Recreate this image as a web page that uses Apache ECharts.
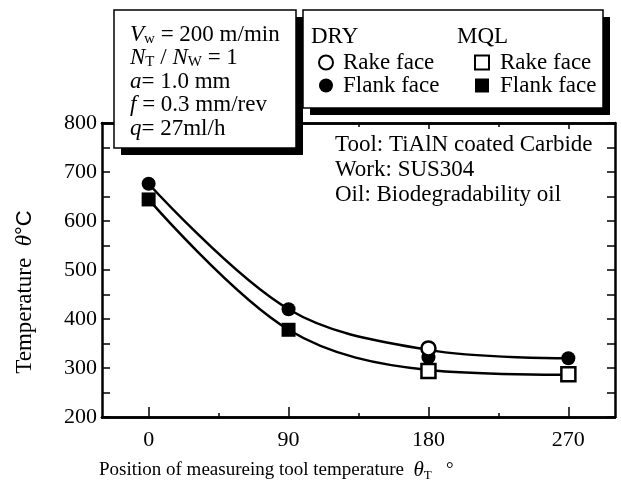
<!DOCTYPE html>
<html>
<head>
<meta charset="utf-8">
<script src="https://cdn.jsdelivr.net/npm/echarts@6/dist/echarts.min.js"></script>
<style>
  html, body { margin: 0; padding: 0; background: #fff; }
  #main { width: 621px; height: 488px; }
</style>
</head>
<body>
<div id="main"></div>
<script>
// positions (deg) and temperatures
var xTicks = [0, 90, 180, 270];
var xMinorTicks = [45, 135, 225];

var dryRake = [[180, 340]];
var dryFlank = [[0, 676], [90, 420], [180, 322], [270, 320]];
var mqlRake = [[180, 294], [270, 287]];
var mqlFlank = [[0, 644], [90, 378]];

// fitted curves through the measured values
var dryCurve = [[0, 676], [90, 420], [180, 337], [270, 320]];
var mqlCurve = [[0, 644], [90, 378], [180, 296], [270, 286]];

var serif = 'Liberation Serif';

var chartDom = document.getElementById('main');
var myChart = echarts.init(chartDom);
var option;

function xAx(pos, ticks, len, labels) {
  return {
    type: 'value',
    position: pos,
    min: -30,
    max: 300,
    axisLine: { show: true, onZero: false, lineStyle: { color: '#000', width: 2.5 } },
    axisTick: { show: true, inside: true, length: len, customValues: ticks, lineStyle: { color: '#000', width: 1.5 } },
    axisLabel: labels ? {
      show: true, customValues: ticks, margin: 12,
      color: '#000', fontFamily: serif, fontSize: 22
    } : { show: false },
    splitLine: { show: false }
  };
}

function yAx(pos, labels) {
  return {
    type: 'value',
    position: pos,
    min: 200,
    max: 800,
    interval: 50,
    axisLine: { show: true, onZero: false, lineStyle: { color: '#000', width: 2.5 } },
    axisTick: { show: true, inside: true, length: 8, lineStyle: { color: '#000', width: 1.5 } },
    axisLabel: labels ? {
      show: true, margin: 5,
      formatter: function (v) { return v % 100 === 0 ? String(v) : ''; },
      color: '#000', fontFamily: serif, fontSize: 22
    } : { show: false },
    splitLine: { show: false }
  };
}

function boxShadow(x, y, w, h) {
  return [
    { type: 'rect', z: 100, shape: { x: x + 7, y: y + 7, width: w, height: h }, style: { fill: '#000' } },
    { type: 'rect', z: 101, shape: { x: x, y: y, width: w, height: h }, style: { fill: '#fff', stroke: '#000', lineWidth: 1.5 } }
  ];
}

option = {
  animation: false,
  backgroundColor: '#fff',
  grid: { left: 102, right: 6, top: 123, bottom: 71, containLabel: false },
  xAxis: [
    xAx('bottom', xTicks, 10, true),
    xAx('bottom', xMinorTicks, 4, false),
    xAx('top', xTicks, 6, false),
    xAx('top', xMinorTicks, 4, false)
  ],
  yAxis: [
    yAx('left', true),
    yAx('right', false)
  ],
  legend: [
    {
      selectedMode: false, orient: 'vertical', left: 313, top: 46, z: 110,
      itemWidth: 14, itemHeight: 14, itemGap: 0,
      data: ['DRY Rake face', 'DRY Flank face'],
      formatter: function (n) { return n.replace(/^(DRY|MQL) /, ''); },
      textStyle: { color: '#000', fontFamily: serif, fontSize: 23, lineHeight: 22, padding: [0, 0, 0, 5] }
    },
    {
      selectedMode: false, orient: 'vertical', left: 469, top: 46, z: 110,
      itemWidth: 14, itemHeight: 14, itemGap: 0,
      data: ['MQL Rake face', 'MQL Flank face'],
      formatter: function (n) { return n.replace(/^(DRY|MQL) /, ''); },
      textStyle: { color: '#000', fontFamily: serif, fontSize: 23, lineHeight: 22, padding: [0, 0, 0, 6] }
    }
  ],
  graphic: [].concat(
    boxShadow(114, 10, 182, 138),
    boxShadow(303, 10, 300, 98),
    [
      {
        type: 'text', z: 102, left: 130, top: 23,
        style: {
          text: '{i|V}{s|w} = 200 m/min\n{i|N}{s|T} / {i|N}{s|W} = 1\n{i|a}= 1.0 mm\n{i|f} = 0.3 mm/rev\n{i|q}= 27ml/h',
          fill: '#000', font: '23px ' + serif, lineHeight: 23.5,
          rich: {
            i: { fontStyle: 'italic', fontFamily: serif, fontSize: 23, lineHeight: 23.5 },
            s: { fontFamily: serif, fontSize: 15, lineHeight: 15, verticalAlign: 'bottom' }
          }
        }
      },
      { type: 'text', z: 102, left: 311, top: 25, style: { text: 'DRY', fill: '#000', font: '23px ' + serif } },
      { type: 'text', z: 102, left: 457, top: 25, style: { text: 'MQL', fill: '#000', font: '23px ' + serif } },
      {
        type: 'text', z: 50, left: 335, top: 132,
        style: {
          text: 'Tool: TiAlN coated Carbide\nWork: SUS304\nOil: Biodegradability oil',
          fill: '#000', font: '23px ' + serif, lineHeight: 25
        }
      },
      {
        type: 'text', z: 50, left: 99, top: 458,
        style: {
          text: 'Position of measureing tool temperature  {i|\u03b8}{s|T}   \u00b0',
          fill: '#000', font: '19px ' + serif, lineHeight: 24,
          rich: {
            i: { fontStyle: 'italic', fontFamily: serif, fontSize: 21, lineHeight: 24 },
            s: { fontFamily: serif, fontSize: 13, lineHeight: 13, verticalAlign: 'bottom' }
          }
        }
      },
      {
        type: 'text', z: 50, x: 25, y: 292, rotation: Math.PI / 2,
        style: {
          text: 'Temperature  {i|\u03b8}{c|\u00b0C}',
          fill: '#000', font: '23px ' + serif, align: 'center', verticalAlign: 'middle',
          rich: {
            i: { fontStyle: 'italic', fontFamily: serif, fontSize: 23 },
            c: { fontFamily: 'Liberation Sans', fontSize: 22 }
          }
        }
      }
    ]
  ),
  series: [
    {
      name: 'DRY curve', type: 'line', data: dryCurve, smooth: 0.35, showSymbol: false, z: 2,
      lineStyle: { color: '#000', width: 2.5 }, silent: true
    },
    {
      name: 'MQL curve', type: 'line', data: mqlCurve, smooth: 0.35, showSymbol: false, z: 2,
      lineStyle: { color: '#000', width: 2.5 }, silent: true
    },
    {
      name: 'DRY Flank face', type: 'scatter', data: dryFlank, symbol: 'circle', symbolSize: 14, z: 3,
      itemStyle: { color: '#000', opacity: 1 }
    },
    {
      name: 'MQL Flank face', type: 'scatter', data: mqlFlank, symbol: 'rect', symbolSize: 14, z: 3,
      itemStyle: { color: '#000', opacity: 1 }
    },
    {
      name: 'DRY Rake face', type: 'scatter', data: dryRake, symbol: 'circle', symbolSize: 14, z: 4,
      itemStyle: { color: '#fff', borderColor: '#000', borderWidth: 2.5, opacity: 1 }
    },
    {
      name: 'MQL Rake face', type: 'scatter', data: mqlRake, symbol: 'rect', symbolSize: 14, z: 4,
      itemStyle: { color: '#fff', borderColor: '#000', borderWidth: 2.5, opacity: 1 }
    }
  ]
};
option && myChart.setOption(option);
</script>
</body>
</html>
